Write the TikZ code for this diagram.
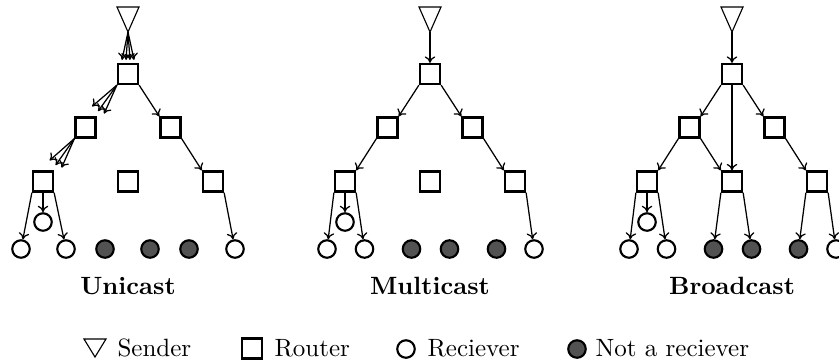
\documentclass[tikz,border=0pt]{standalone}
\usetikzlibrary{arrows.meta}
\begin{document}
\begin{tikzpicture}[x=0.4pt,y=-0.4pt,
  router/.style={draw, line width=0.9pt, minimum size=8pt, inner sep=0pt},
  recv/.style={circle, draw, line width=0.85pt, fill=white, minimum size=7pt, inner sep=0pt},
  nrecv/.style={recv, fill=black!68},
  pkt/.style={-{To[length=2.6pt,width=4.2pt]}, line width=0.5pt},
  sendertri/.style={draw, line width=0.45pt},
  title/.style={font=\bfseries, anchor=base, inner sep=0pt},
  legtext/.style={anchor=base west, inner sep=0pt}]
\useasboundingbox (0,0) rectangle (839,363);

% ---------------- Unicast ----------------
\coordinate (Ut) at (128,32);
\draw[sendertri] (117,7) -- (139,7) -- (Ut) -- cycle;
\node[router] (U1) at (128,74) {};
\node[router] (U2l) at (85.5,127.5) {};
\node[router] (U2r) at (170.5,127.5) {};
\node[router] (U3l) at (43,181.5) {};
\node[router] (U3m) at (128,181.5) {};
\node[router] (U3r) at (213,181.5) {};
\node[recv] (Us) at (43,222) {};
\node[recv] (Uc1) at (21,249) {};
\node[recv] (Uc2) at (66,249) {};
\node[nrecv] (Uc3) at (105,249) {};
\node[nrecv] (Uc4) at (150,249) {};
\node[nrecv] (Uc5) at (189,249) {};
\node[recv] (Uc6) at (235,249) {};
\node[title] (Ul) at (128,294) {Unicast};
\foreach \d in {-6,-2,2,6}
  \draw[pkt] (Ut) -- ([xshift=\d*0.4pt,yshift=1.2pt]U1.north);
\draw[pkt] (U1.south west) -- ([xshift=-1.8pt,yshift=4pt]U2l.north east);
\draw[pkt] (U1.south west) -- ([xshift=0.6pt,yshift=2.1pt]U2l.north east);
\draw[pkt] (U1.south west) -- ([xshift=3pt,yshift=1.1pt]U2l.north east);
\draw[pkt] (U1.south east) -- (U2r.north west);
\draw[pkt] (U2l.south west) -- ([xshift=-1.8pt,yshift=4pt]U3l.north east);
\draw[pkt] (U2l.south west) -- ([xshift=0.6pt,yshift=2.1pt]U3l.north east);
\draw[pkt] (U2l.south west) -- ([xshift=3pt,yshift=1.1pt]U3l.north east);
\draw[pkt] (U2r.south east) -- (U3r.north west);
\draw[pkt] (U3l.south) -- (Us.north);
\draw[pkt] (U3l.south west) -- (Uc1);
\draw[pkt] (U3l.south east) -- (Uc2);
\draw[pkt] (U3r.south east) -- (Uc6);

% ---------------- Multicast ----------------
\begin{scope}[xshift=120.8pt]
\coordinate (Mt) at (128,32);
\draw[sendertri] (117,7) -- (139,7) -- (Mt) -- cycle;
\node[router] (M1) at (128,74) {};
\node[router] (M2l) at (85.5,127.5) {};
\node[router] (M2r) at (170.5,127.5) {};
\node[router] (M3l) at (43,181.5) {};
\node[router] (M3m) at (128,181.5) {};
\node[router] (M3r) at (213,181.5) {};
\node[recv] (Ms) at (43,222) {};
\node[recv] (Mc1) at (25,249) {};
\node[recv] (Mc2) at (62.5,249) {};
\node[nrecv] (Mc3) at (109.5,249) {};
\node[nrecv] (Mc4) at (147.5,249) {};
\node[nrecv] (Mc5) at (194.5,249) {};
\node[recv] (Mc6) at (232,249) {};
\node[title] (Ml) at (128,294) {Multicast};
\draw[pkt] (Mt) -- (M1.north);
\draw[pkt] (M1.south west) -- (M2l.north east);
\draw[pkt] (M1.south east) -- (M2r.north west);
\draw[pkt] (M2l.south west) -- (M3l.north east);
\draw[pkt] (M2r.south east) -- (M3r.north west);
\draw[pkt] (M3l.south) -- (Ms.north);
\draw[pkt] (M3l.south west) -- (Mc1);
\draw[pkt] (M3l.south east) -- (Mc2);
\draw[pkt] (M3r.south east) -- (Mc6);
\end{scope}

% ---------------- Broadcast ----------------
\begin{scope}[xshift=241.6pt]
\coordinate (Bt) at (128,32);
\draw[sendertri] (117,7) -- (139,7) -- (Bt) -- cycle;
\node[router] (B1) at (128,74) {};
\node[router] (B2l) at (85.5,127.5) {};
\node[router] (B2r) at (170.5,127.5) {};
\node[router] (B3l) at (43,181.5) {};
\node[router] (B3m) at (128,181.5) {};
\node[router] (B3r) at (213,181.5) {};
\node[recv] (Bs) at (43,222) {};
\node[recv] (Bc1) at (25,249) {};
\node[recv] (Bc2) at (62.5,249) {};
\node[nrecv] (Bc3) at (109.5,249) {};
\node[nrecv] (Bc4) at (147.5,249) {};
\node[nrecv] (Bc5) at (194.5,249) {};
\node[recv] (Bc6) at (232,249) {};
\node[title] (Bl) at (128,294) {Broadcast};
\draw[pkt] (Bt) -- (B1.north);
\draw[pkt] (B1.south west) -- (B2l.north east);
\draw[pkt] (B1.south) -- (B3m.north);
\draw[pkt] (B1.south east) -- (B2r.north west);
\draw[pkt] (B2l.south west) -- (B3l.north east);
\draw[pkt] (B2l.south east) -- (B3m.north west);
\draw[pkt] (B2r.south east) -- (B3r.north west);
\draw[pkt] (B3l.south) -- (Bs.north);
\draw[pkt] (B3l.south west) -- (Bc1);
\draw[pkt] (B3l.south east) -- (Bc2);
\draw[pkt] (B3m.south west) -- (Bc3);
\draw[pkt] (B3m.south east) -- (Bc4);
\draw[pkt] (B3r.south west) -- (Bc5);
\draw[pkt] (B3r.south east) -- (Bc6);
\end{scope}

% ---------------- Legend ----------------
\draw[sendertri] (84,339) -- (106,339) -- (95,357) -- cycle;
\node[legtext] (lsend) at (117,356) {Sender};
\node[router] (lrouter) at (252,348.5) {};
\node[legtext] (lrout) at (274,356) {Router};
\node[recv] (lrecv) at (406,349) {};
\node[legtext] (lrec) at (427,356) {Reciever};
\node[nrecv] (lnrecv) at (577,349) {};
\node[legtext] (lnrec) at (595,356) {Not a reciever};
\end{tikzpicture}
\end{document}
